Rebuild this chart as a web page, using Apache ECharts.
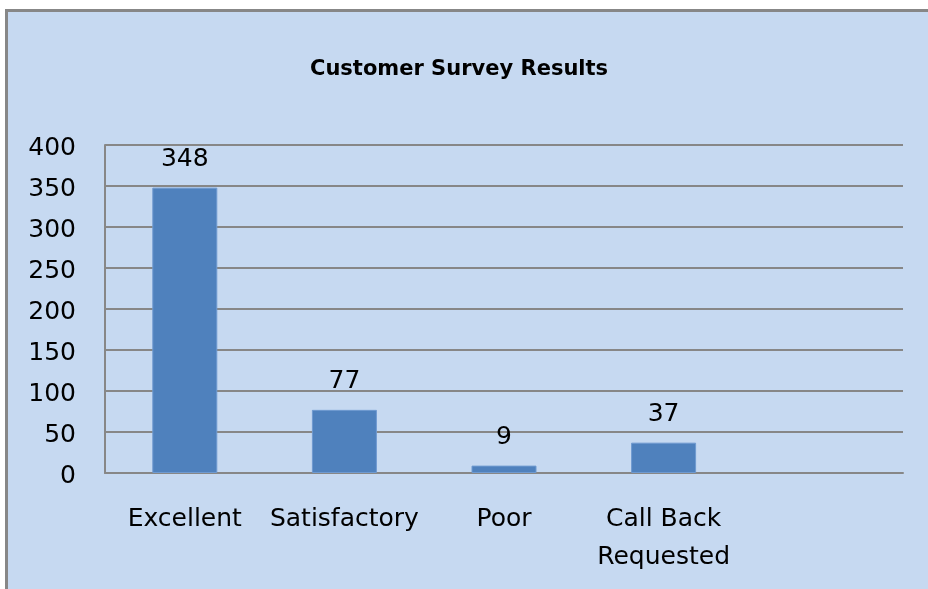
<!DOCTYPE html>
<html>
<head>
<meta charset="utf-8">
<script src="https://cdn.jsdelivr.net/npm/echarts@6/dist/echarts.min.js"></script>
<style>
    html, body { margin: 0; padding: 0; background: #fff; }
    #main { width: 928px; height: 589px; }
</style>
</head>
<body>
<div id="main"></div>
<script>
    // survey answers, last slot is left empty like the source sheet
    var categories = ['Excellent', 'Satisfactory', 'Poor', 'Call Back\nRequested', ''];
    var responses = [348, 77, 9, 37, null];
    var yTicks = [0, 50, 100, 150, 200, 250, 300, 350, 400];

    var font = 'DejaVu Sans';
    var gray = '#878787';

    var chart = echarts.init(document.getElementById('main'));
    chart.setOption({
        backgroundColor: '#fff',
        animation: false,
        graphic: [{
            type: 'rect',
            z: -10,
            silent: true,
            shape: { x: 6.5, y: 10.5, width: 1000, height: 1000 },
            style: { fill: '#c6d9f1', stroke: gray, lineWidth: 3 }
        }],
        title: {
            text: 'Customer Survey Results',
            left: 305,
            top: 54,
            textStyle: { fontFamily: font, fontSize: 21, fontWeight: 'bold', color: '#000' }
        },
        grid: { left: 105, right: 25, top: 145, bottom: 116, containLabel: false },
        xAxis: {
            type: 'category',
            data: categories,
            axisTick: { show: false },
            axisLine: { lineStyle: { color: gray, width: 2 } },
            axisLabel: {
                margin: 27,
                interval: 0,
                fontFamily: font,
                fontSize: 25,
                lineHeight: 38,
                color: '#000'
            }
        },
        yAxis: {
            type: 'value',
            min: yTicks[0],
            max: yTicks[yTicks.length - 1],
            interval: 50,
            axisLine: { show: true, lineStyle: { color: gray, width: 2 } },
            axisTick: { show: false },
            splitLine: { lineStyle: { color: gray, width: 2 } },
            axisLabel: {
                margin: 29,
                formatter: function (v) { return '{t|' + v + '}'; },
                rich: { t: { fontFamily: font, fontSize: 25, color: '#000', padding: [6, 0, 0, 0] } }
            }
        },
        series: [{
            type: 'bar',
            data: responses,
            barWidth: 65,
            itemStyle: { color: '#4f81bd', borderColor: '#6f9ad0', borderWidth: 1 },
            label: {
                show: true,
                position: 'top',
                distance: 16,
                fontFamily: font,
                fontSize: 25,
                color: '#000'
            }
        }]
    });
</script>
</body>
</html>
